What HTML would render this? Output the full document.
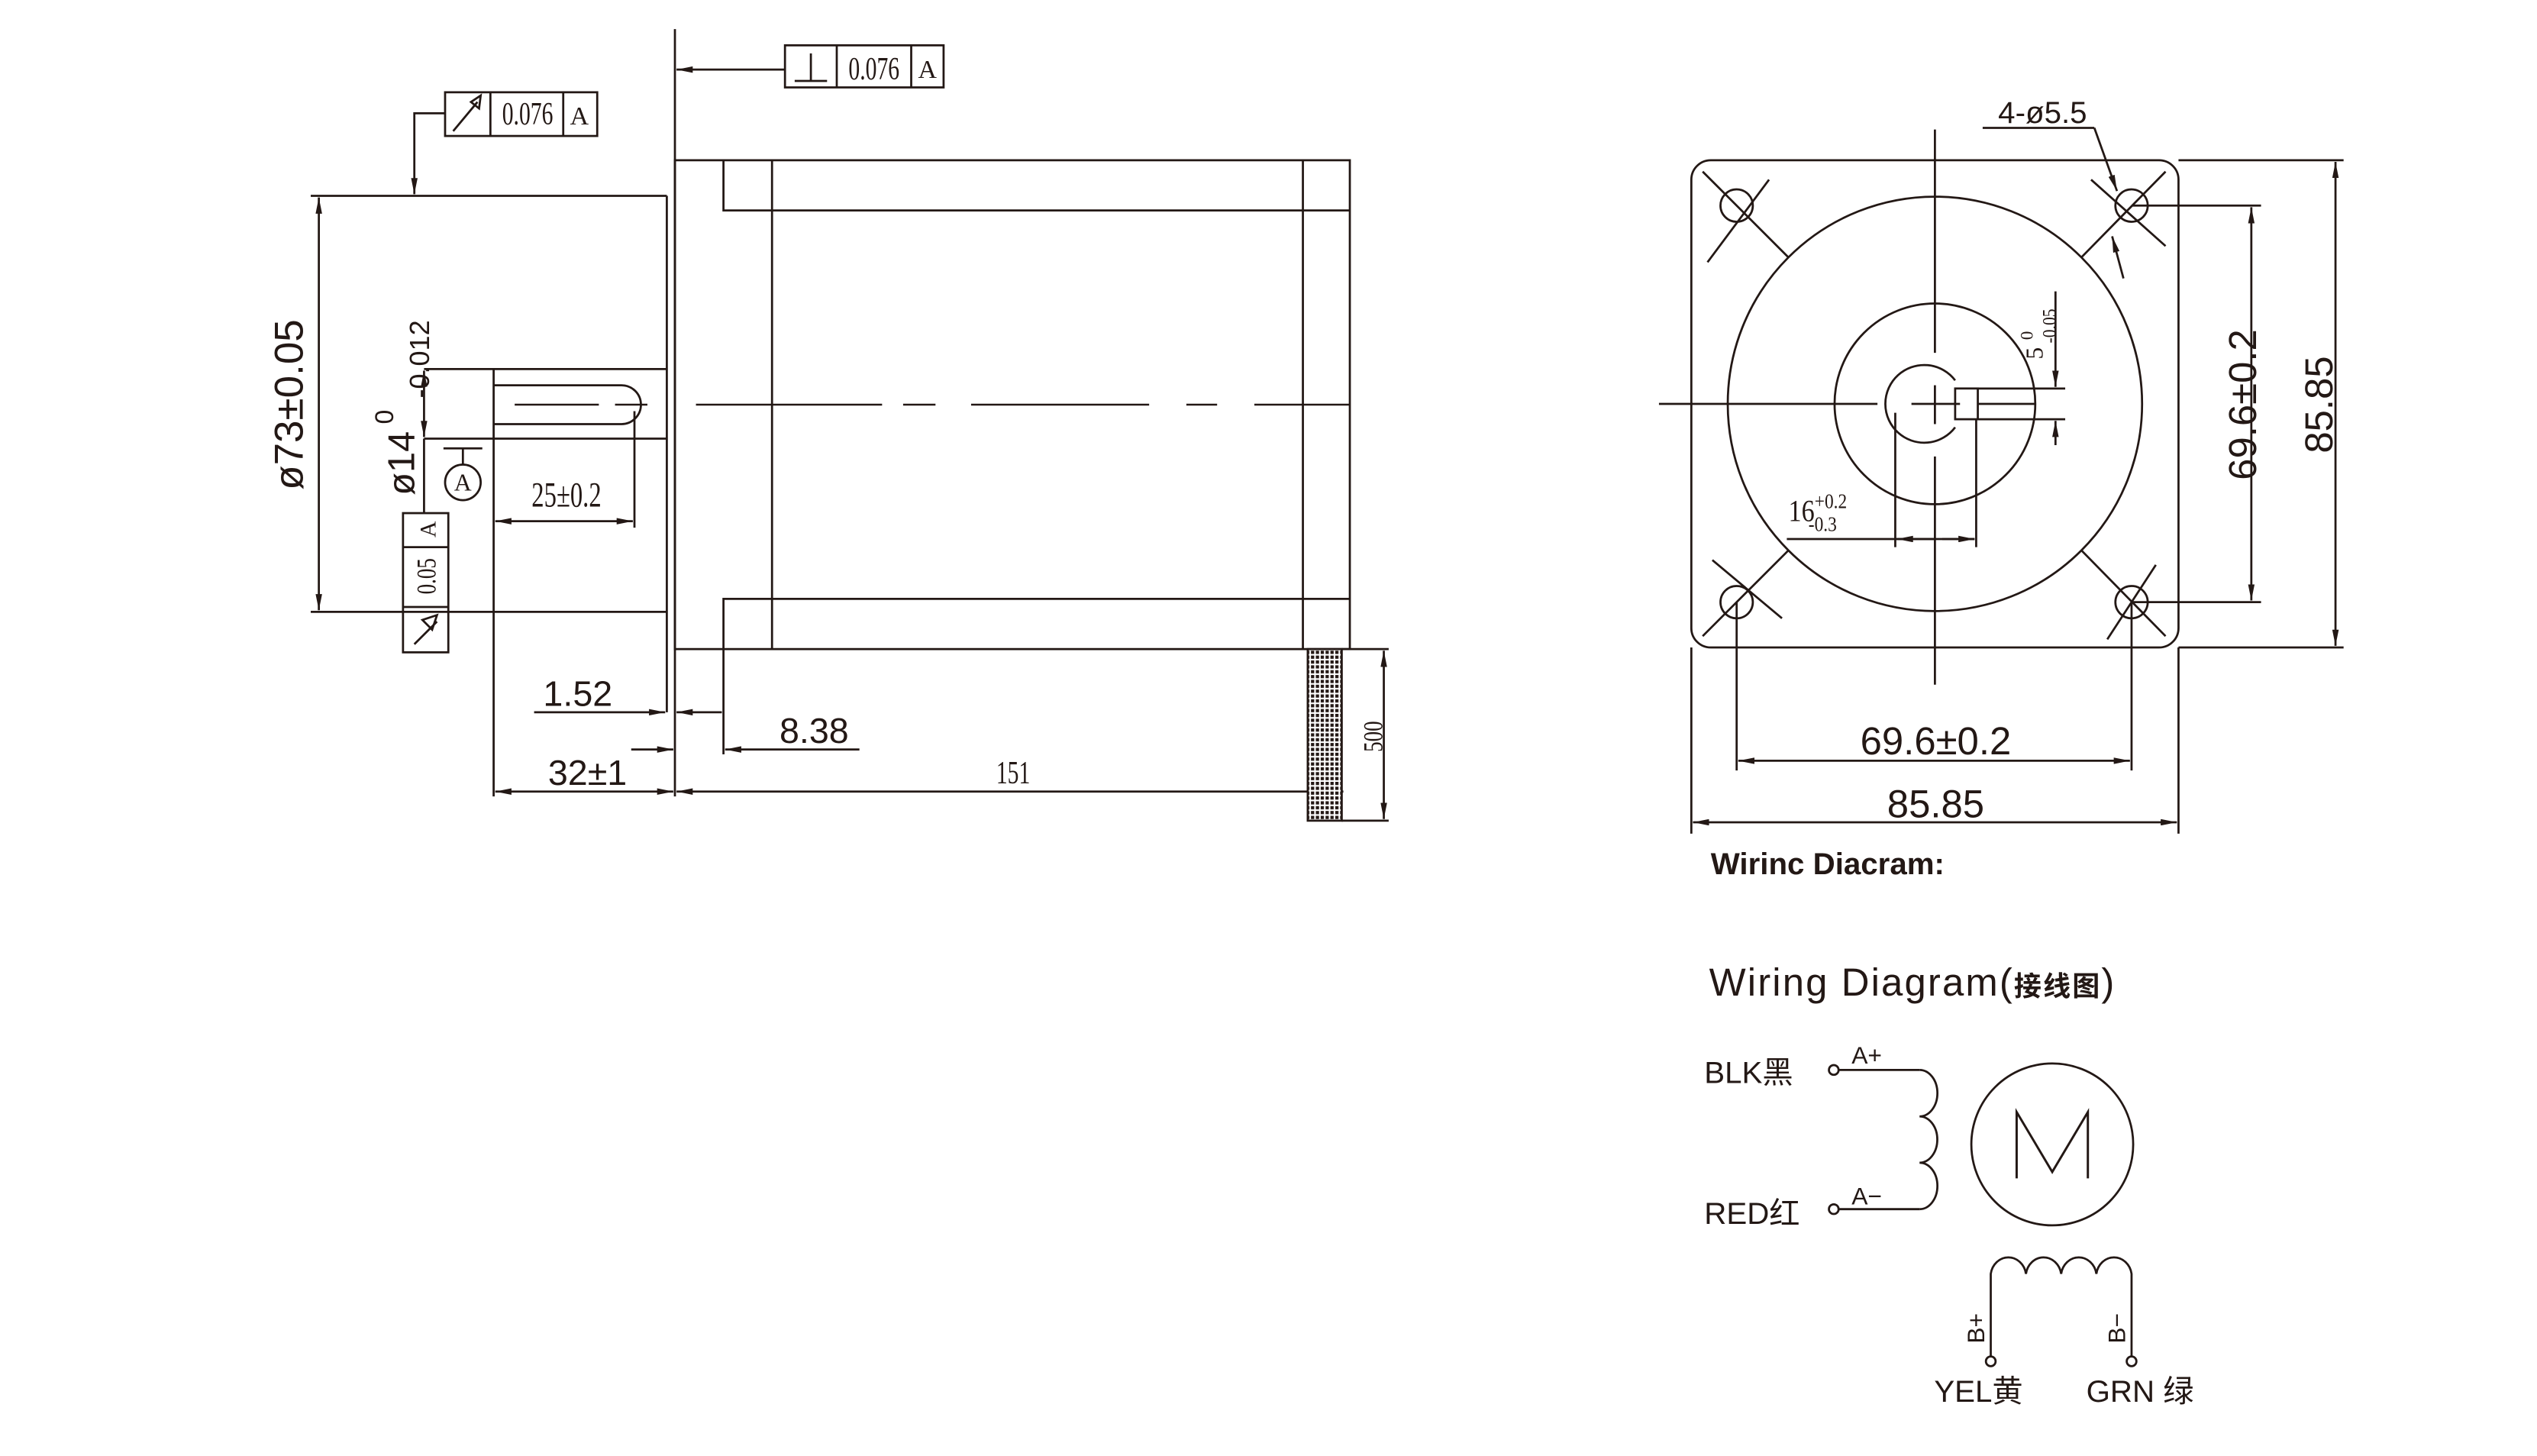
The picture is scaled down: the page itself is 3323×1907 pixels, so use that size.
<!DOCTYPE html>
<html><head><meta charset="utf-8"><style>
html,body{margin:0;padding:0;background:#fff}
svg{display:block}
.s{font-family:"Liberation Sans","Noto Sans CJK SC",sans-serif;fill:#231815}
.r{font-family:"Liberation Serif",serif;fill:#231815}
</style></head><body>
<svg width="3323" height="1907" viewBox="0 0 1567.5 899.5" preserveAspectRatio="none" xmlns="http://www.w3.org/2000/svg">
<defs>
<marker id="a" viewBox="0 0 10 4" refX="10" refY="2" markerWidth="10" markerHeight="4" markerUnits="userSpaceOnUse" orient="auto-start-reverse"><path d="M0,0 L10,2 L0,4 z" fill="#231815"/></marker>
<pattern id="h" width="3" height="3" patternUnits="userSpaceOnUse"><rect width="3" height="3" fill="#fff"/><rect width="2" height="2" fill="#231815"/></pattern>
</defs>
<g stroke="#231815" stroke-width="1.3" fill="none">
<line x1="417" y1="18" x2="417" y2="492"/>
<polyline points="412,121 412,440"/>
<rect x="417" y="99" width="417" height="302"/>
<polyline points="447,99 447,130 834,130"/>
<line x1="477" y1="99" x2="477" y2="401"/>
<line x1="805" y1="99" x2="805" y2="401"/>
<polyline points="834,370 447,370 447,466"/>
<g stroke-width="1.2">
<line x1="430" y1="250" x2="545" y2="250"/><line x1="558" y1="250" x2="578" y2="250"/>
<line x1="600" y1="250" x2="710" y2="250"/><line x1="733" y1="250" x2="752" y2="250"/>
<line x1="775" y1="250" x2="834" y2="250"/>
<line x1="318" y1="250" x2="370" y2="250"/><line x1="380" y1="250" x2="400" y2="250"/>
</g>
<line x1="262" y1="228" x2="412" y2="228"/>
<line x1="262" y1="271" x2="412" y2="271"/>
<line x1="305" y1="228" x2="305" y2="492"/>
<path d="M305,238 L384,238 A12,12 0 0 1 384,262 L305,262"/>
<line x1="192" y1="121" x2="412" y2="121"/>
<line x1="192" y1="378" x2="412" y2="378"/>
<line x1="197" y1="122" x2="197" y2="377" marker-start="url(#a)" marker-end="url(#a)"/>
<line x1="262" y1="229" x2="262" y2="270" marker-start="url(#a)" marker-end="url(#a)"/>
<line x1="262" y1="271" x2="262" y2="317"/>
<line x1="274" y1="277" x2="298" y2="277"/><line x1="286" y1="277" x2="286" y2="287"/>
<circle cx="286" cy="298" r="11"/>
<rect x="249" y="317" width="28" height="86"/>
<line x1="249" y1="338" x2="277" y2="338"/><line x1="249" y1="375" x2="277" y2="375"/>
<line x1="256" y1="398" x2="270" y2="384"/><path d="M261,383 L270,380 L267,389 z"/>
<line x1="392" y1="254" x2="392" y2="326"/>
<line x1="306" y1="322" x2="391" y2="322" marker-start="url(#a)" marker-end="url(#a)"/>
<rect x="275" y="57" width="94" height="27"/>
<line x1="303" y1="57" x2="303" y2="84"/><line x1="348" y1="57" x2="348" y2="84"/>
<line x1="280" y1="81" x2="295" y2="63"/><path d="M291,63 L297,59 L296,67 z"/>
<polyline points="275,70 256,70 256,120" marker-end="url(#a)"/>
<rect x="485" y="28" width="98" height="26"/>
<line x1="517" y1="28" x2="517" y2="54"/><line x1="563" y1="28" x2="563" y2="54"/>
<line x1="491" y1="50" x2="511" y2="50"/><line x1="501" y1="33" x2="501" y2="50"/>
<line x1="485" y1="43" x2="418" y2="43" marker-end="url(#a)"/>
<line x1="330" y1="440" x2="411" y2="440" marker-end="url(#a)"/>
<line x1="446" y1="440" x2="418" y2="440" marker-end="url(#a)"/>
<line x1="531" y1="463" x2="448" y2="463" marker-end="url(#a)"/>
<line x1="390" y1="463" x2="416" y2="463" marker-end="url(#a)"/>
<line x1="306" y1="489" x2="416" y2="489" marker-start="url(#a)" marker-end="url(#a)"/>
<line x1="418" y1="489" x2="830" y2="489" marker-start="url(#a)"/>
<rect x="808" y="401" width="21" height="106" fill="url(#h)"/>
<line x1="829" y1="401" x2="858" y2="401"/><line x1="829" y1="507" x2="858" y2="507"/>
<line x1="855" y1="402" x2="855" y2="506" marker-start="url(#a)" marker-end="url(#a)"/>

<rect x="1045" y="99" width="301" height="301" rx="12"/>
<circle cx="1195.5" cy="249.5" r="128"/>
<circle cx="1195.5" cy="249.5" r="62"/>
<path d="M1208,235 A24,24 0 1 0 1208,264"/>
<rect x="1208" y="240" width="14" height="19"/>
<circle cx="1073" cy="127" r="10"/><circle cx="1317" cy="127" r="10"/>
<circle cx="1073" cy="372" r="10"/><circle cx="1317" cy="372" r="10"/>
<line x1="1052" y1="106" x2="1105" y2="159"/><line x1="1055" y1="162" x2="1093" y2="111"/>
<line x1="1338" y1="106" x2="1286" y2="159"/><line x1="1292" y1="111" x2="1338" y2="152"/>
<line x1="1052" y1="393" x2="1105" y2="340"/><line x1="1058" y1="346" x2="1101" y2="382"/>
<line x1="1338" y1="393" x2="1286" y2="340"/><line x1="1302" y1="395" x2="1332" y2="349"/>
<line x1="1225" y1="79" x2="1294" y2="79"/>
<line x1="1294" y1="79" x2="1308" y2="118" marker-end="url(#a)"/>
<line x1="1312" y1="172" x2="1305" y2="146" marker-end="url(#a)"/>
<line x1="1195.5" y1="80" x2="1195.5" y2="218"/><line x1="1195.5" y1="238" x2="1195.5" y2="262"/><line x1="1195.5" y1="282" x2="1195.5" y2="423"/>
<line x1="1025" y1="249.5" x2="1160" y2="249.5"/><line x1="1181" y1="249.5" x2="1211" y2="249.5"/><line x1="1222" y1="249.5" x2="1258" y2="249.5"/>
<line x1="1222" y1="240" x2="1276" y2="240"/><line x1="1222" y1="259" x2="1276" y2="259"/>
<line x1="1270" y1="180" x2="1270" y2="239" marker-end="url(#a)"/>
<line x1="1270" y1="275" x2="1270" y2="260" marker-end="url(#a)"/>
<line x1="1171" y1="255" x2="1171" y2="338"/><line x1="1221" y1="259" x2="1221" y2="338"/>
<line x1="1104" y1="333" x2="1220" y2="333"/>
<line x1="1195" y1="333" x2="1172" y2="333" marker-end="url(#a)"/>
<line x1="1200" y1="333" x2="1220" y2="333" marker-end="url(#a)"/>
<line x1="1317" y1="127" x2="1397" y2="127"/><line x1="1317" y1="372" x2="1397" y2="372"/>
<line x1="1391" y1="128" x2="1391" y2="371" marker-start="url(#a)" marker-end="url(#a)"/>
<line x1="1346" y1="99" x2="1448" y2="99"/><line x1="1346" y1="400" x2="1448" y2="400"/>
<line x1="1443" y1="100" x2="1443" y2="399" marker-start="url(#a)" marker-end="url(#a)"/>
<line x1="1073" y1="372" x2="1073" y2="476"/><line x1="1317" y1="372" x2="1317" y2="476"/>
<line x1="1074" y1="470" x2="1316" y2="470" marker-start="url(#a)" marker-end="url(#a)"/>
<line x1="1045" y1="400" x2="1045" y2="515"/><line x1="1346" y1="400" x2="1346" y2="515"/>
<line x1="1046" y1="508" x2="1345" y2="508" marker-start="url(#a)" marker-end="url(#a)"/>

<circle cx="1133" cy="661" r="3"/><circle cx="1133" cy="747" r="3"/>
<line x1="1136" y1="661" x2="1186" y2="661"/>
<path d="M1186,661 A11,14.3 0 0 1 1186,689.7 A11,14.3 0 0 1 1186,718.3 A11,14.3 0 0 1 1186,747"/>
<line x1="1136" y1="747" x2="1186" y2="747"/>
<circle cx="1268" cy="707" r="50"/>
<path d="M1230,838 L1230,787 A11,12 0 0 1 1251.75,787 A11,12 0 0 1 1273.5,787 A11,12 0 0 1 1295.25,787 A11,12 0 0 1 1317,787 L1317,838"/>
<circle cx="1230" cy="841" r="3"/><circle cx="1317" cy="841" r="3"/>
<polyline points="1246,728 1246,687 1268,724 1290,687 1290,728" stroke-width="1.4"/>
</g>

<g class="s">
<text transform="translate(187,250) rotate(-90)" text-anchor="middle" font-size="25">ø73±0.05</text>
<text transform="translate(256,306) rotate(-90)" font-size="23">ø14</text>
<text transform="translate(243,262) rotate(-90)" font-size="16">0</text>
<text transform="translate(265,246) rotate(-90)" font-size="17">-0.012</text>
<text x="357" y="436" text-anchor="middle" font-size="22">1.52</text>
<text x="503" y="459" text-anchor="middle" font-size="22">8.38</text>
<text x="363" y="485" text-anchor="middle" font-size="22">32±1</text>
<text x="1262" y="76" text-anchor="middle" font-size="19">4-ø5.5</text>
<text transform="translate(1394,250) rotate(-90)" text-anchor="middle" font-size="24">69.6±0.2</text>
<text transform="translate(1441,250) rotate(-90)" text-anchor="middle" font-size="24">85.85</text>
<text x="1196" y="466" text-anchor="middle" font-size="24">69.6±0.2</text>
<text x="1196" y="505" text-anchor="middle" font-size="24">85.85</text>
<text x="1057" y="540" font-size="19" font-weight="bold">Wirinc Diacram:</text>
<text x="1056" y="615" font-size="24" letter-spacing="1">Wiring Diagram(<tspan font-size="17" font-weight="bold">接线图</tspan>)</text>
<text x="1053" y="669" font-size="19">BLK黑</text>
<text x="1053" y="756" font-size="19">RED红</text>
<text x="1144" y="657" font-size="15">A+</text>
<text x="1144" y="744" font-size="15">A−</text>
<text transform="translate(1226,830) rotate(-90)" font-size="15">B+</text>
<text transform="translate(1313,830) rotate(-90)" font-size="15">B−</text>
<text x="1195" y="866" font-size="19">YEL黄</text>
<text x="1289" y="866" font-size="19">GRN 绿</text>
</g>
<g class="r">
<text x="286" y="303" text-anchor="middle" font-size="15">A</text>
<text transform="translate(269,356) rotate(-90) scale(0.75,1)" text-anchor="middle" font-size="17">0.05</text>
<text transform="translate(269,327) rotate(-90)" text-anchor="middle" font-size="14">A</text>
<text transform="translate(326,77) scale(0.7,1)" text-anchor="middle" font-size="20">0.076</text>
<text x="358" y="77" text-anchor="middle" font-size="16">A</text>
<text transform="translate(540,49) scale(0.7,1)" text-anchor="middle" font-size="20">0.076</text>
<text x="573" y="48" text-anchor="middle" font-size="16">A</text>
<text transform="translate(350,313) scale(0.7,1)" text-anchor="middle" font-size="22">25±0.2</text>
<text transform="translate(626,484) scale(0.7,1)" text-anchor="middle" font-size="20">151</text>
<text transform="translate(854,455) rotate(-90) scale(0.75,1)" text-anchor="middle" font-size="17">500</text>
<text transform="translate(1262,222) rotate(-90)" font-size="15">5</text>
<text transform="translate(1256,210) rotate(-90)" font-size="11">0</text>
<text transform="translate(1270,212) rotate(-90) scale(0.85,1)" font-size="12">-0.05</text>
<text transform="translate(1105,322) scale(0.85,1)" font-size="19">16<tspan font-size="13" dy="-8">+0.2</tspan><tspan font-size="13" dx="-28" dy="14">-0.3</tspan></text>
</g>
</svg>
</body></html>
